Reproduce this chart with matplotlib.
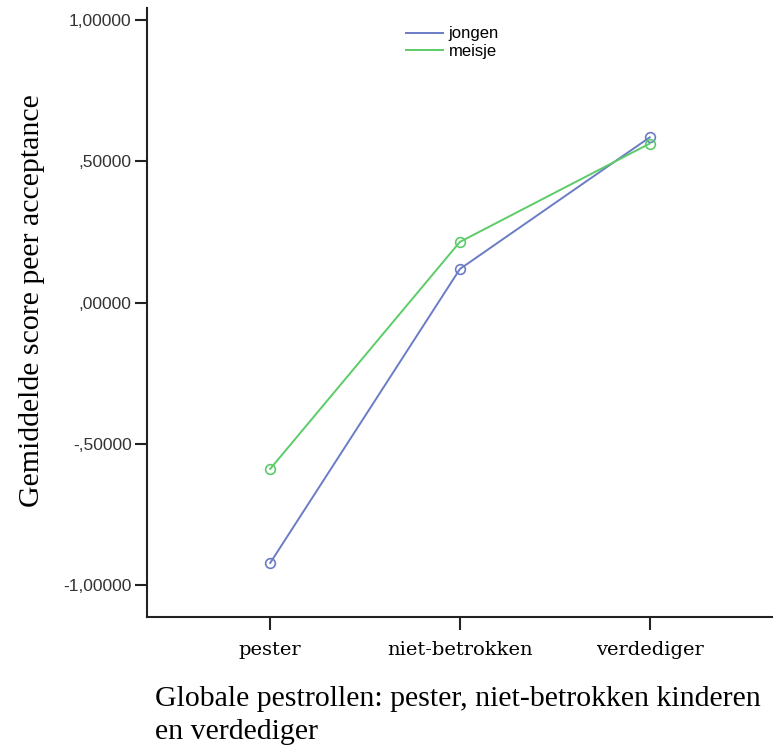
import matplotlib.pyplot as plt

# category names and mean scores per group
categories = ["pester", "niet-betrokken", "verdediger"]
jongen = [-0.922, 0.119, 0.585]
meisje = [-0.589, 0.215, 0.563]
yticks = [-1.0, -0.5, 0.0, 0.5, 1.0]
ytick_labels = ["-1,00000", "-,50000", ",00000", ",50000", "1,00000"]

fig = plt.figure(figsize=(7.73, 7.56), dpi=100)
ax = fig.add_axes([0.190, 0.184, 0.81, 0.805])

x = list(range(len(categories)))
ax.plot(x, jongen, color="#6a7cc6", linewidth=1.4, marker="o", markersize=7,
        markerfacecolor="none", markeredgewidth=1.2, label="jongen")
ax.plot(x, meisje, color="#5ccc68", linewidth=1.4, marker="o", markersize=7,
        markerfacecolor="none", markeredgewidth=1.2, label="meisje")

ax.set_xlim(-0.65, 2.65)
ax.set_ylim(-1.113, 1.042)
ax.set_xticks(x)
ax.set_xticklabels(categories, fontfamily="DejaVu Serif", fontsize=14)
ax.set_yticks(yticks)
ax.set_yticklabels(ytick_labels, fontfamily="Liberation Sans", fontsize=12.5, color="#333333")

for side in ["top", "right"]:
    ax.spines[side].set_visible(False)
for side in ["left", "bottom"]:
    ax.spines[side].set_linewidth(1.5)
    ax.spines[side].set_color("#222222")
ax.tick_params(axis="both", direction="out", length=9, width=1.5, color="#222222")
ax.tick_params(axis="x", pad=8)
ax.tick_params(axis="y", pad=2)

leg = ax.legend(loc="upper left", bbox_to_anchor=(0.39, 0.995), frameon=False,
                prop={"family": "Liberation Sans", "size": 12},
                handlelength=2.2, handletextpad=0.35, labelspacing=0.15)
for line in leg.get_lines():
    line.set_marker("")

fig.text(0.042, 0.603, "Gemiddelde score peer acceptance", rotation=90,
         ha="center", va="center", fontfamily="Liberation Serif", fontsize=21.5)
fig.text(155 / 773, 1 - 686 / 756,
         "Globale pestrollen: pester, niet-betrokken kinderen\nen verdediger",
         ha="left", va="top", fontfamily="Liberation Serif", fontsize=21.5,
         linespacing=1.35)

plt.savefig("out.png", dpi=100)
